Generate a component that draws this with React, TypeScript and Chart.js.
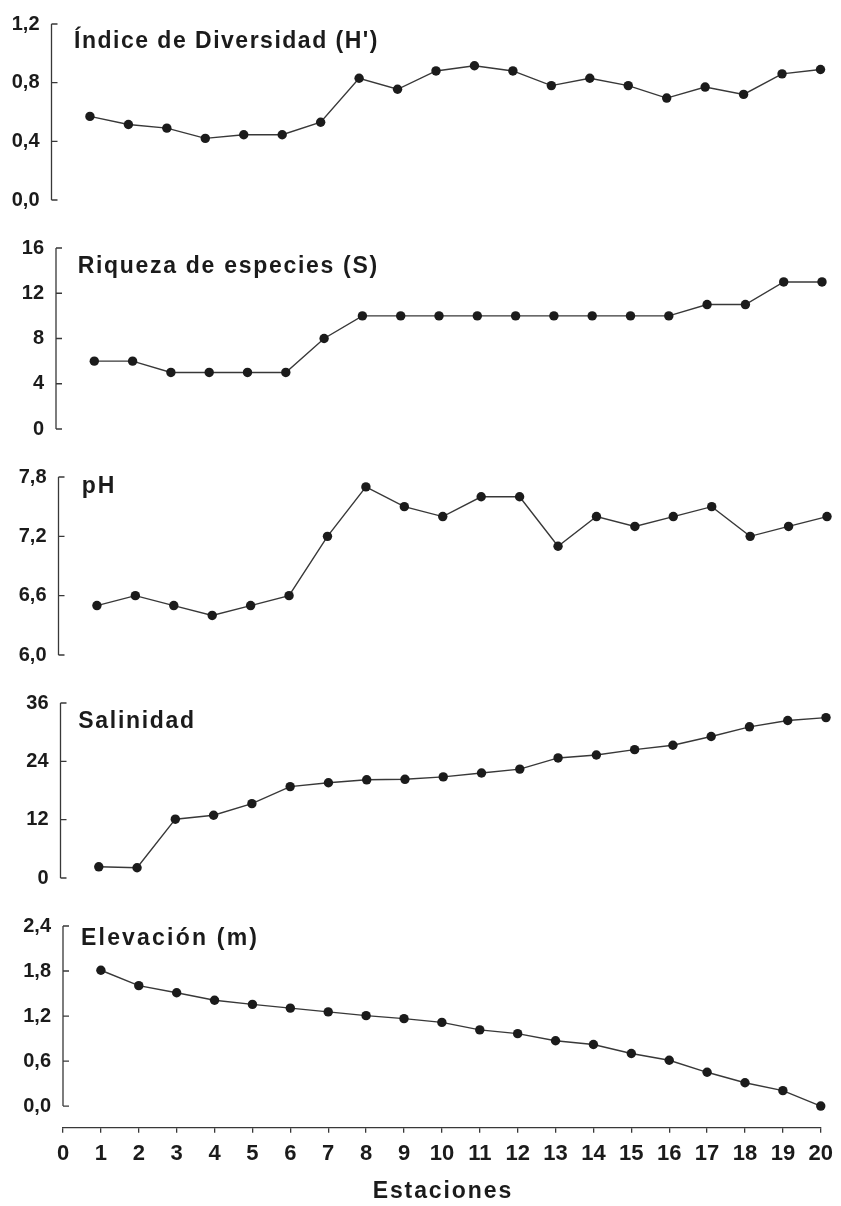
import React, { useEffect, useRef } from 'react';
import { Chart, registerables } from 'chart.js';

Chart.register(...registerables);

// ---------- data ----------
const stations = [1, 2, 3, 4, 5, 6, 7, 8, 9, 10, 11, 12, 13, 14, 15, 16, 17, 18, 19, 20];
const stationTicks = [0, 1, 2, 3, 4, 5, 6, 7, 8, 9, 10, 11, 12, 13, 14, 15, 16, 17, 18, 19, 20];

const diversidadH = [0.57, 0.515, 0.49, 0.42, 0.445, 0.445, 0.53, 0.83, 0.755, 0.88, 0.915, 0.88, 0.78, 0.83, 0.78, 0.695, 0.77, 0.72, 0.86, 0.89];
const riqueza = [6, 6, 5, 5, 5, 5, 8, 10, 10, 10, 10, 10, 10, 10, 10, 10, 11, 11, 13, 13];
const pH = [6.5, 6.6, 6.5, 6.4, 6.5, 6.6, 7.2, 7.7, 7.5, 7.4, 7.6, 7.6, 7.1, 7.4, 7.3, 7.4, 7.5, 7.2, 7.3, 7.4];
const salinidad = [2.3, 2.1, 12.1, 12.9, 15.3, 18.8, 19.6, 20.2, 20.3, 20.8, 21.6, 22.4, 24.7, 25.3, 26.4, 27.3, 29.1, 31.1, 32.4, 33.0];
const elevacion = [1.81, 1.605, 1.51, 1.41, 1.355, 1.305, 1.255, 1.205, 1.165, 1.115, 1.015, 0.965, 0.87, 0.82, 0.7, 0.61, 0.45, 0.31, 0.205, 0.0];

const hTicks = [0, 0.4, 0.8, 1.2];
const sTicks = [0, 4, 8, 12, 16];
const phTicks = [6.0, 6.6, 7.2, 7.8];
const salTicks = [0, 12, 24, 36];
const elevTicks = [0, 0.6, 1.2, 1.8, 2.4];

const xAxisTitle = 'Estaciones';

// ---------- styles ----------
const FONT = '"Liberation Sans", Arial, Helvetica, sans-serif';
const INK = '#1b1b1b';
const LINE = '#383838';

type PanelCfg = {
  key: string;
  title: string;
  values: number[];
  ticks: number[];
  decimals: number;
  canvasTop: number;
  canvasH: number;
  padTop: number;
  padBottom: number;
  axisW: number;
  padRight: number;
  titleDx: number;
  titleDy: number;
  titleLs: number;
  showX?: boolean;
  xAxisH?: number;
  axisGap?: number;
  plotH?: number;
};

const panels: PanelCfg[] = [
  { key: 'h', title: "Índice de Diversidad (H')", values: diversidadH, ticks: hTicks, decimals: 1,
    canvasTop: 0, canvasH: 224, padTop: 17.3, padBottom: 23.7, axisW: 51.5, padRight: 20.5,
    titleDx: 22.5, titleDy: 24.4, titleLs: 1.5 },
  { key: 's', title: 'Riqueza de especies (S)', values: riqueza, ticks: sTicks, decimals: 0,
    canvasTop: 224, canvasH: 229, padTop: 24, padBottom: 22, axisW: 56, padRight: 19,
    titleDx: 21.7, titleDy: 25.3, titleLs: 1.7 },
  { key: 'ph', title: 'pH', values: pH, ticks: phTicks, decimals: 1,
    canvasTop: 453, canvasH: 226, padTop: 22.5, padBottom: 20, axisW: 58.5, padRight: 14,
    titleDx: 23.2, titleDy: 16.2, titleLs: 2.0 },
  { key: 'sal', title: 'Salinidad', values: salinidad, ticks: salTicks, decimals: 0,
    canvasTop: 679, canvasH: 223, padTop: 20, padBottom: 19.5, axisW: 60.5, padRight: 15,
    titleDx: 17.8, titleDy: 25.3, titleLs: 1.7 },
  { key: 'elev', title: 'Elevación (m)', values: elevacion, ticks: elevTicks, decimals: 1,
    canvasTop: 902, canvasH: 304, padTop: 20.7, padBottom: 0, axisW: 63, padRight: 14.3,
    titleDx: 18, titleDy: 19, titleLs: 2.2, showX: true, xAxisH: 78.3, axisGap: 22, plotH: 183 },
];

function formatTick(v: number, decimals: number) {
  return decimals > 0 ? Number(v).toFixed(decimals).replace('.', ',') : String(Math.round(Number(v)));
}

function decorPlugin(cfg: PanelCfg) {
  return {
    id: 'decor_' + cfg.key,
    beforeDatasetsDraw(chart: any) {
      const { ctx, chartArea } = chart;
      const y = chart.scales.y;
      const vals: number[] = y.ticks.map((t: any) => t.value);
      const x0 = chartArea.left;
      const yTop = y.getPixelForValue(Math.max(...vals));
      const yBot = y.getPixelForValue(Math.min(...vals));
      ctx.save();
      ctx.strokeStyle = LINE;
      ctx.lineWidth = 1.3;
      ctx.beginPath();
      ctx.moveTo(x0, yTop);
      ctx.lineTo(x0, yBot);
      vals.forEach((v) => {
        const p = y.getPixelForValue(v);
        ctx.moveTo(x0, p);
        ctx.lineTo(x0 + 6, p);
      });
      ctx.stroke();
      ctx.restore();
    },
    afterDraw(chart: any) {
      const { ctx, chartArea } = chart;
      ctx.save();
      ctx.font = `bold 23px ${FONT}`;
      ctx.fillStyle = INK;
      ctx.textAlign = 'left';
      ctx.textBaseline = 'alphabetic';
      (ctx as any).letterSpacing = cfg.titleLs + 'px';
      ctx.fillText(cfg.title, chartArea.left + cfg.titleDx, chartArea.top + cfg.titleDy);
      if (cfg.showX) {
        const xs = chart.scales.x;
        ctx.textAlign = 'center';
        ctx.textBaseline = 'middle';
        (ctx as any).letterSpacing = '1.9px';
        ctx.fillText(xAxisTitle, (xs.left + xs.right) / 2 + 1, xs.top + 64.3);
      }
      ctx.restore();
    },
  };
}

function Panel({ cfg }: { cfg: PanelCfg }) {
  const ref = useRef<HTMLCanvasElement>(null);
  useEffect(() => {
    const canvas = ref.current;
    if (!canvas) return;
    const tMin = Math.min(...cfg.ticks);
    const tMax = Math.max(...cfg.ticks);
    const range = tMax - tMin;
    const yMin = cfg.axisGap && cfg.plotH ? tMin - (range * cfg.axisGap) / cfg.plotH : tMin;

    const xScale: any = {
      type: 'linear',
      min: 0,
      max: 20,
      display: !!cfg.showX,
      afterBuildTicks: (s: any) => {
        s.ticks = stationTicks.map((v) => ({ value: v }));
      },
      grid: { drawOnChartArea: false, drawTicks: true, tickLength: 5, color: LINE, lineWidth: 1.3 },
      border: { display: true, color: LINE, width: 1.3 },
      ticks: {
        font: { family: FONT, size: 22, weight: 'bold' },
        color: INK,
        padding: 8,
        maxRotation: 0,
        autoSkip: false,
      },
    };
    if (cfg.showX) {
      xScale.afterFit = (s: any) => {
        s.height = cfg.xAxisH;
      };
    }

    const chart = new Chart(canvas, {
      type: 'line',
      data: {
        datasets: [
          {
            data: stations.map((s, i) => ({ x: s, y: cfg.values[i] })),
            borderColor: LINE,
            borderWidth: 1.4,
            pointRadius: 4.7,
            pointBackgroundColor: INK,
            pointBorderColor: INK,
            pointBorderWidth: 0,
            pointStyle: 'circle',
            tension: 0,
            fill: false,
            clip: false,
          } as any,
        ],
      },
      options: {
        responsive: false,
        animation: false,
        devicePixelRatio: 1,
        events: [],
        layout: { padding: { top: cfg.padTop, bottom: cfg.padBottom, left: 0, right: cfg.padRight } },
        plugins: {
          legend: { display: false },
          tooltip: { enabled: false },
          title: { display: false },
        },
        scales: {
          x: xScale,
          y: {
            type: 'linear',
            min: yMin,
            max: tMax,
            afterBuildTicks: (s: any) => {
              s.ticks = cfg.ticks.map((v) => ({ value: v }));
            },
            afterFit: (s: any) => {
              s.width = cfg.axisW;
            },
            grid: { display: false, drawTicks: false },
            border: { display: false },
            ticks: {
              font: { family: FONT, size: 20, weight: 'bold' },
              color: INK,
              padding: 12,
              autoSkip: false,
              callback: (v: any) => formatTick(v, cfg.decimals),
            },
          } as any,
        },
      } as any,
      plugins: [decorPlugin(cfg) as any],
    });
    return () => chart.destroy();
  }, [cfg]);

  return (
    <canvas
      ref={ref}
      width={841}
      height={cfg.canvasH}
      style={{ position: 'absolute', left: 0, top: cfg.canvasTop, display: 'block', width: 841, height: cfg.canvasH }}
    />
  );
}

export default function App() {
  return (
    <div style={{ position: 'absolute', left: 0, top: 0, width: 841, height: 1206, background: '#ffffff', overflow: 'hidden' }}>
      {panels.map((p) => (
        <Panel key={p.key} cfg={p} />
      ))}
    </div>
  );
}
